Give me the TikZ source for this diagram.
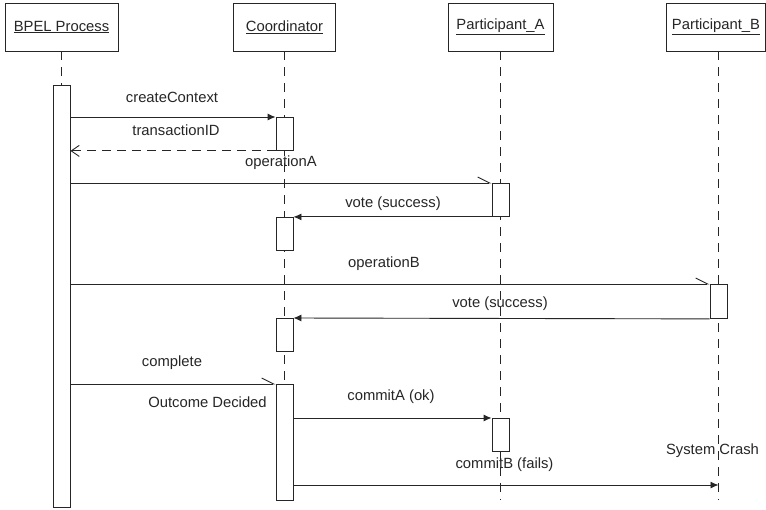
\documentclass[tikz,border=0pt]{standalone}
\usepackage{fontspec}
\setmainfont{Liberation Sans}
\usetikzlibrary{arrows.meta}
\begin{document}
\begin{tikzpicture}[x=1pt,y=-1pt, color=black!85, line width=0.9pt,
  lbl/.style={font=\fontsize{14.8}{16}\selectfont, text=black!85, inner sep=0pt},
  head/.style={draw=black!85, fill=white, minimum height=48pt, inner sep=0pt, font=\fontsize{14.8}{16}\selectfont, text=black!85},
  actbar/.style={draw=black!85, fill=white, minimum width=17pt, inner sep=0pt, anchor=north},
  life/.style={dash pattern=on 9pt off 7pt},
  msg/.style={-{Latex[length=8pt,width=7pt]}},
  async/.style={-{Straight Barb[harpoon,length=12pt,width=12pt]}},
  ret/.style={dash pattern=on 9pt off 6pt, -{Straight Barb[length=8pt,width=11pt]}}]
\fill[white] (0,0) rectangle (766,509);
\useasboundingbox (0,0) rectangle (766,509);
% headers
\node[head, minimum width=113pt] (hb) at (61.5,27) {\underline{BPEL Process}};
\node[head, minimum width=102pt] (hc) at (284.5,27) {\underline{Coordinator}};
\node[head, minimum width=105pt] (ha) at (500.5,27) {\underline{Participant\_A}};
\node[head, minimum width=99pt] (hp) at (716,27) {\underline{Participant\_B}};
% lifeline ends
\coordinate (ce) at (284.5,500);
\coordinate (ae) at (500.5,500);
\coordinate (pe) at (718.5,500);
\coordinate (crash) at (718.5,485);
% activation bar of BPEL
\node[actbar, minimum height=422pt] (b0) at (61.5,85) {};
% lifelines
\draw[life] (hb.south) -- (b0.north);
\draw[life] (hc.south) -- (ce);
\draw[life] (ha.south) -- (ae);
\draw[life] (hp.south -| pe) -- (pe);
% activation bars
\node[actbar, minimum height=33pt] (c1) at (284.5,117) {};
\node[actbar, minimum height=33pt] (pa1) at (500.5,183) {};
\node[actbar, minimum height=33pt] (c2) at (284.5,217) {};
\node[actbar, minimum height=34pt] (pb1) at (718.5,284) {};
\node[actbar, minimum height=33pt] (c3) at (284.5,318) {};
\node[actbar, minimum height=116pt] (c4) at (284.5,384) {};
\node[actbar, minimum height=33pt] (pa2) at (500.5,418) {};
% messages
\draw[msg] (b0.east |- c1.north) -- (c1.north west);
\draw[ret] (c1.south west) -- (b0.east |- c1.south);
\draw[async] (b0.east |- pa1.north) -- (pa1.north west);
\draw[msg] (pa1.south west) -- (c2.north east |- pa1.south west);
\draw[async] (b0.east |- pb1.north) -- (pb1.north west);
\draw[msg] (pb1.south west) -- (c3.north east);
\draw[async] (b0.east |- c4.north) -- (c4.north west);
\draw[msg] (c4.east |- pa2.north) -- (pa2.north west);
\draw[msg] (c4.east |- crash) -- (crash);
% labels
\node[lbl] (l1) at (172,97) {createContext};
\node[lbl] (l2) at (176,130) {transactionID};
\node[lbl] (l3) at (281,163) {operationA};
\node[lbl] (l4) at (393,204) {vote (success)};
\node[lbl] (l5) at (384,264) {operationB};
\node[lbl] (l6) at (500,304) {vote (success)};
\node[lbl] (l7) at (172,363) {complete};
\node[lbl] (l8) at (207.5,402) {Outcome Decided};
\node[lbl] (l9) at (391,397) {commitA (ok)};
\node[lbl] (l10) at (504.5,465) {commitB (fails)};
\node[lbl] (l11) at (712.5,451) {System Crash};
\end{tikzpicture}
\end{document}
